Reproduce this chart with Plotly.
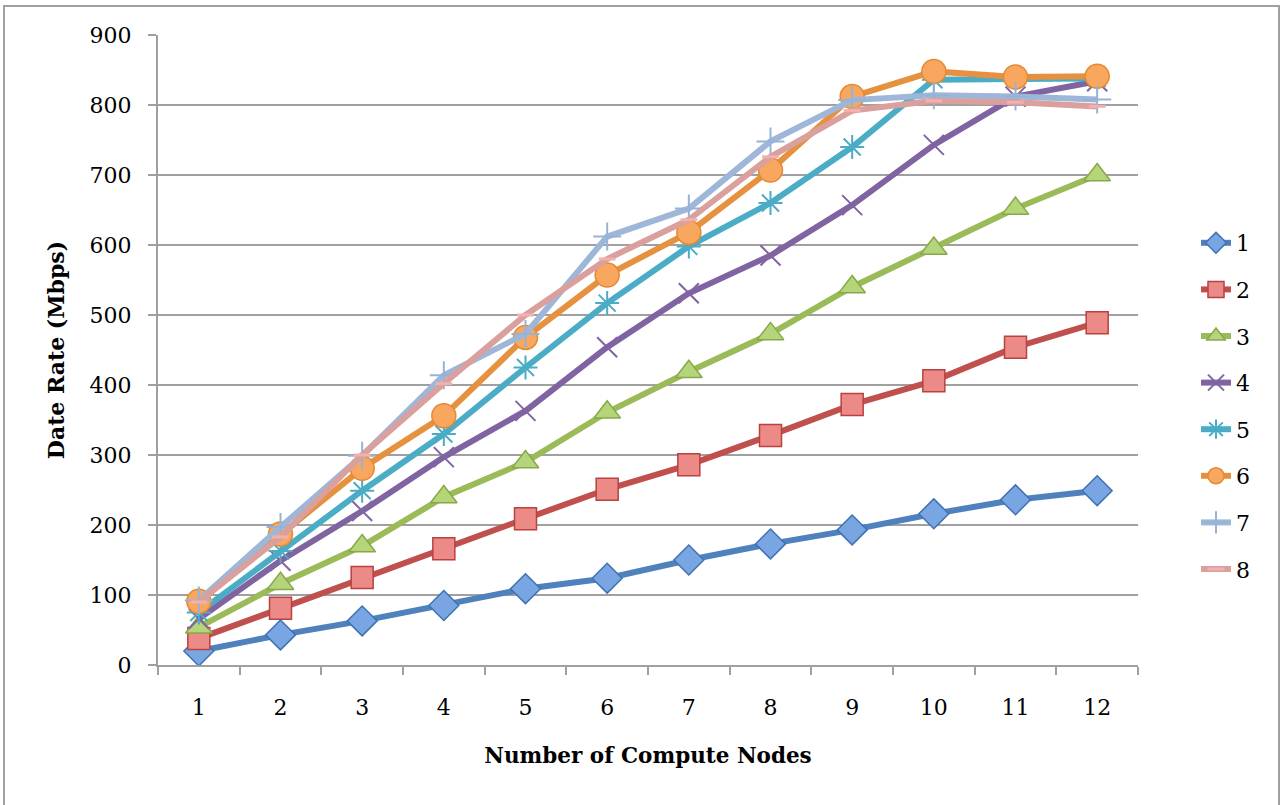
import plotly.graph_objects as go

nodes = ["1", "2", "3", "4", "5", "6", "7", "8", "9", "10", "11", "12"]
series_names = ["1", "2", "3", "4", "5", "6", "7", "8"]
s1 = [20, 43, 63, 85, 109, 124, 150, 173, 193, 216, 236, 249]
s2 = [38, 81, 125, 166, 209, 251, 286, 328, 372, 406, 454, 489]
s3 = [54, 116, 170, 240, 290, 361, 419, 473, 540, 595, 652, 700]
s4 = [66, 149, 220, 297, 363, 454, 531, 585, 657, 743, 812, 834]
s5 = [75, 163, 249, 330, 425, 517, 598, 660, 740, 836, 838, 838]
s6 = [91, 187, 281, 356, 468, 557, 618, 707, 812, 848, 840, 841]
s7 = [92, 197, 299, 414, 473, 612, 652, 748, 807, 814, 812, 808]
s8 = [90, 183, 300, 402, 500, 580, 636, 726, 792, 806, 804, 798]
all_series = [s1, s2, s3, s4, s5, s6, s7, s8]
y_ticks = [0, 100, 200, 300, 400, 500, 600, 700, 800, 900]

styles = [
    dict(line="#4F81BD", symbol="diamond", size=23, fill="#79A6E3", edge="#3F72B3", lw=1.5),
    dict(line="#C0504D", symbol="square", size=22, fill="#EC8A87", edge="#B8423F", lw=1.5),
    dict(line="#9BBB59", symbol="triangle-up", size=23, fill="#B5D57A", edge="#88A84A", lw=1.5),
    dict(line="#8064A2", symbol="x-thin", size=20, fill="#8064A2", edge="#8064A2", lw=2),
    dict(line="#4BACC6", symbol="asterisk", size=20, fill="#4BACC6", edge="#4BACC6", lw=2),
    dict(line="#E5913F", symbol="circle", size=24, fill="#F9A75E", edge="#E38A33", lw=1.5),
    dict(line="#9EB6D8", symbol="cross-thin", size=20, fill="#95B3D7", edge="#95B3D7", lw=2),
    dict(line="#D9A09E", symbol="line-ew", size=12, fill="#F2B0AF", edge="#F2B0AF", lw=3),
]

FONT = "DejaVu Serif"

fig = go.Figure()
for name, vals, st in zip(series_names, all_series, styles):
    fig.add_trace(go.Scatter(
        x=nodes, y=vals, name=name, legendgroup=name,
        mode="lines+markers",
        line=dict(color=st["line"], width=6),
        marker=dict(symbol=st["symbol"], size=st["size"], color=st["fill"],
                    line=dict(color=st["edge"], width=st["lw"])),
    ))

L, R, T, B = 158, 147, 35, 140
W, H = 1285, 805
pw = W - L - R
ph = H - T - B

fig.add_shape(type="rect", xref="paper", yref="paper",
              x0=(4 - L) / pw, x1=(1279 - L) / pw,
              y0=-(806 - (H - B)) / ph, y1=1 + (T - 6) / ph,
              line=dict(color="#A0A0A0", width=2), fillcolor="rgba(0,0,0,0)", layer="below")

fig.update_layout(
    width=W, height=H,
    margin=dict(l=L, r=R, t=T, b=B, autoexpand=False),
    paper_bgcolor="white", plot_bgcolor="white",
    font=dict(family=FONT, size=22, color="black"),
    showlegend=True,
    legend=dict(x=(1196 - L) / pw, y=1 - (222 - T) / ph, xanchor="left", yanchor="top",
                font=dict(family=FONT, size=22, color="black"),
                tracegroupgap=15, bgcolor="rgba(0,0,0,0)"),
    xaxis=dict(
        type="category", range=[-0.5, 11.5],
        showgrid=False, showline=True, linecolor="#A0A0A0", linewidth=2,
        ticks="outside", tickson="boundaries", ticklen=8, tickwidth=2, tickcolor="#A0A0A0",
        ticklabelstandoff=22,
        title=dict(text="<b>Number of Compute Nodes</b>", font=dict(family=FONT, size=21.5), standoff=29),
        automargin=False, zeroline=False,
    ),
    yaxis=dict(
        range=[0, 900], tickvals=y_ticks, ticktext=[str(v) for v in y_ticks],
        showgrid=True, gridcolor="#A0A0A0", gridwidth=2,
        showline=True, linecolor="#A0A0A0", linewidth=2,
        ticks="outside", ticklen=8, tickwidth=2, tickcolor="#A0A0A0",
        ticklabelstandoff=12,
        title=dict(text="<b>Date Rate (Mbps)</b>", font=dict(family=FONT, size=22), standoff=19),
        automargin=False, zeroline=False,
    ),
)

fig.write_html("out.html", config={"displayModeBar": False},
               post_script="document.body.style.margin='0';document.body.style.padding='0';")
